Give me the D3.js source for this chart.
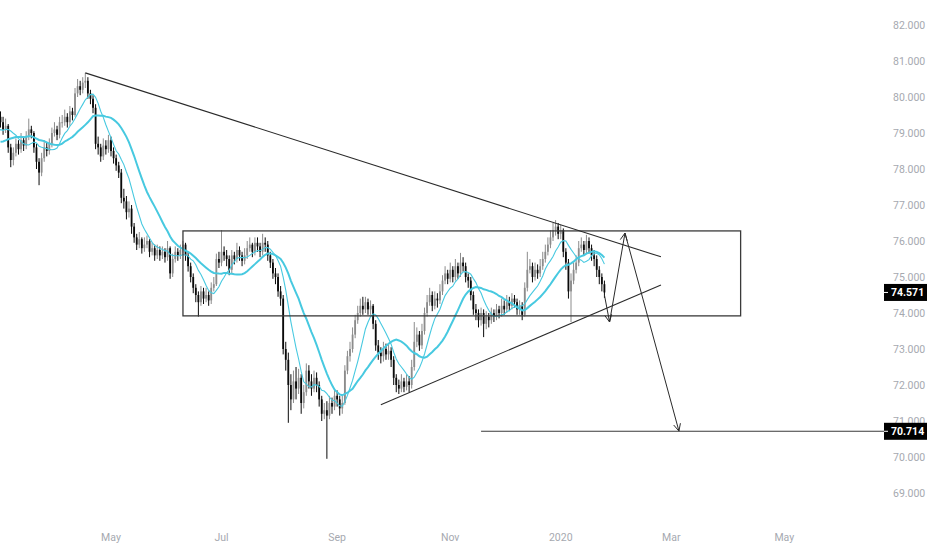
<!DOCTYPE html>
<html>
<head>
<meta charset="utf-8">
<script src="https://cdn.jsdelivr.net/npm/d3@7"></script>
<style>
html, body { margin: 0; padding: 0; background: #fff; }
svg { display: block; font-family: Roboto, "Liberation Sans", sans-serif; }
</style>
</head>
<body>
<div id="chart"></div>
<script>
// daily bars on a weekday calendar, first bar 2019-02-01
const firstDay = new Date(2019, 1, 1)
const lastDay = new Date(2020, 5, 1)

// February 2019 closes, only needed so the moving averages start at the left edge
const warmupCloses = [79.0, 78.6, 77.9, 77.8, 78.0, 78.3, 78.5, 78.7, 78.9, 78.6,
    78.8, 79.0, 79.3, 78.9, 78.7, 78.6, 79.0, 79.2, 79.4, 79.45]

// visible bars, 2019-03-01 .. 2020-01-24
const closes = [
    79.30,79.10,79.20,78.60,78.25,78.45,78.70,78.55,78.80,78.65,
    78.90,79.10,79.00,78.60,78.20,77.90,78.30,78.60,78.50,78.70,
    79.00,79.10,78.95,79.30,79.30,79.45,79.30,79.60,79.50,80.10,
    80.30,80.20,80.40,80.45,80.10,79.95,79.70,78.70,78.60,78.35,
    78.65,78.55,78.80,78.50,78.30,78.10,77.90,77.20,77.10,76.80,
    76.90,76.40,76.10,75.90,76.05,75.80,75.90,76.00,75.70,75.80,
    75.60,75.75,75.60,75.70,75.55,75.80,75.10,75.50,75.70,75.60,
    75.75,75.90,75.60,75.30,75.00,74.70,74.50,74.30,74.60,74.40,
    74.50,74.35,74.70,74.80,75.50,75.40,75.70,75.60,75.50,75.20,
    75.60,75.50,75.75,75.60,75.45,75.60,75.80,75.90,75.70,75.95,
    75.85,75.70,75.95,75.90,75.60,75.40,75.10,75.00,74.60,74.40,
    73.00,72.70,72.00,71.60,72.10,71.90,72.20,71.50,71.80,72.40,
    72.10,71.90,72.20,72.00,71.60,71.20,71.30,71.15,71.50,71.40,
    71.70,71.60,71.35,71.50,72.40,72.80,73.00,73.40,73.80,74.00,
    74.20,74.10,74.30,74.10,74.20,73.70,73.10,72.90,72.80,73.00,
    72.85,72.95,72.70,72.20,72.00,71.90,72.10,71.95,72.10,72.00,
    72.50,73.20,73.40,73.10,73.50,74.00,74.30,74.50,74.20,74.40,
    74.35,74.60,74.90,75.10,74.95,75.20,75.00,75.30,75.10,75.40,
    75.30,75.00,74.90,74.50,74.10,74.00,73.80,74.00,73.70,73.90,
    73.80,74.00,73.90,74.10,74.00,74.20,74.10,74.30,74.20,74.40,
    74.30,74.10,74.20,73.95,74.70,75.20,75.30,75.00,75.20,75.10,
    75.30,75.50,75.70,75.90,76.10,76.30,76.40,76.20,76.30,75.70,
    75.40,74.60,74.90,75.20,75.40,75.80,75.90,75.75,76.00,75.80,
    75.60,75.50,75.20,75.00,74.80,74.571]

const highs = [
    79.60,79.45,79.40,79.25,78.70,78.60,78.85,78.80,79.00,78.90,
    79.05,79.40,79.20,79.05,78.70,78.30,78.45,78.80,78.75,78.85,
    79.15,79.30,79.20,79.45,79.50,79.65,79.55,79.75,79.70,80.25,
    80.50,80.45,80.55,80.67,80.55,80.20,80.05,79.80,78.90,78.70,
    78.85,78.80,78.95,78.90,78.60,78.40,78.20,78.00,77.45,77.25,
    77.10,77.00,76.50,76.20,76.25,76.10,76.10,76.15,76.05,75.95,
    75.90,75.90,75.85,75.85,75.80,76.00,75.85,75.65,75.85,75.80,
    75.90,76.00,75.95,75.70,75.40,75.10,74.80,74.60,74.75,74.70,
    74.70,74.60,74.85,75.00,75.65,75.70,76.30,75.85,75.75,75.60,
    75.75,75.70,75.95,75.85,75.70,75.80,76.00,76.10,75.95,76.10,
    76.10,75.95,76.20,76.10,76.00,75.70,75.50,75.25,75.10,74.75,
    74.50,73.20,72.90,72.30,72.40,72.50,72.45,72.30,72.00,72.60,
    72.55,72.30,72.40,72.35,72.10,71.70,71.50,71.55,71.70,71.65,
    71.90,71.85,71.70,71.75,72.55,72.95,73.20,73.60,73.95,74.20,
    74.40,74.45,74.45,74.40,74.35,74.25,73.80,73.25,73.05,73.20,
    73.15,73.15,73.05,72.80,72.30,72.15,72.30,72.20,72.30,72.25,
    72.70,73.75,73.60,73.50,73.70,74.15,74.50,74.70,74.60,74.60,
    74.55,74.80,75.05,75.30,75.20,75.40,75.30,75.50,75.40,75.67,
    75.55,75.40,75.10,75.00,74.60,74.25,74.10,74.15,74.10,74.05,
    74.00,74.15,74.10,74.25,74.20,74.40,74.35,74.50,74.45,74.55,
    74.50,74.40,74.35,74.30,74.85,75.70,75.50,75.40,75.40,75.35,
    75.50,75.70,75.90,76.10,76.30,76.50,76.58,76.50,76.45,76.35,
    75.80,75.50,75.10,75.40,75.60,76.00,76.10,76.00,76.17,76.10,
    75.90,75.75,75.60,75.30,75.10,74.90]

const lows = [
    79.15,78.95,79.00,78.45,78.05,78.10,78.35,78.40,78.45,78.50,
    78.55,78.80,78.85,78.45,78.00,77.55,77.80,78.20,78.35,78.40,
    78.60,78.90,78.80,78.85,79.15,79.20,79.15,79.20,79.35,79.45,
    80.00,80.05,80.10,80.25,79.95,79.80,79.55,78.55,78.40,78.20,
    78.25,78.40,78.45,78.35,78.15,77.95,77.75,77.05,76.90,76.60,
    76.65,76.20,75.95,75.75,75.80,75.65,75.70,75.80,75.55,75.60,
    75.45,75.50,75.45,75.50,75.40,75.45,74.95,75.00,75.40,75.45,
    75.50,75.65,75.45,75.15,74.85,74.55,74.30,73.90,74.20,74.25,
    74.30,74.20,74.25,74.60,74.75,75.25,75.30,75.45,75.30,75.05,
    75.10,75.35,75.40,75.45,75.30,75.35,75.50,75.70,75.55,75.60,
    75.70,75.55,75.60,75.70,75.45,75.25,74.95,74.80,74.45,74.20,
    72.85,72.40,70.95,71.30,71.50,71.60,71.75,71.20,71.35,71.70,
    71.90,71.70,71.80,71.80,71.40,71.00,71.05,69.95,71.05,71.20,
    71.30,71.40,71.15,71.20,71.45,72.30,72.65,72.90,73.30,73.70,
    73.90,73.95,74.00,73.95,73.95,73.55,72.95,72.70,72.60,72.65,
    72.70,72.70,72.50,72.00,71.80,71.75,71.80,71.80,71.85,71.80,
    71.90,72.40,73.05,72.95,73.00,73.40,73.90,74.20,74.05,74.10,
    74.15,74.25,74.50,74.80,74.80,74.85,74.85,74.90,74.95,75.00,
    75.15,74.85,74.70,74.35,73.95,73.80,73.60,73.65,73.33,73.55,
    73.60,73.70,73.75,73.80,73.85,73.90,73.95,74.00,74.05,74.10,
    74.15,73.95,73.95,73.80,73.90,74.60,75.10,74.85,74.90,74.95,
    75.00,75.20,75.40,75.60,75.80,76.00,76.15,76.05,76.05,75.55,
    75.20,74.40,73.75,74.80,75.10,75.30,75.70,75.60,75.65,75.65,
    75.45,75.30,75.00,74.80,74.60,74.42]

const fastPeriod = 9
const slowPeriod = 21

const lastPrice = 74.571
const targetPrice = 70.714

const priceTicks = [82, 81, 80, 79, 78, 77, 76, 75, 74, 73, 72, 71, 70, 69]
const monthTicks = ["2019-05", "2019-07", "2019-09", "2019-11", "2020-01", "2020-03", "2020-05"]
const monthLabels = ["May", "Jul", "Sep", "Nov", "2020", "Mar", "May"]

// drawings, anchored at [date, price]
const downTrend = [["2019-04-17", 80.67], ["2020-02-25", 75.56]]
const upTrend = [["2019-09-25", 71.45], ["2020-02-25", 74.78]]
const rangeBox = [["2019-06-10", 76.28], ["2020-04-08", 73.92]]
const forecast = [["2020-01-24", 74.50], ["2020-01-28", 73.75], ["2020-02-05", 76.22], ["2020-03-05", 70.72]]
const targetStart = "2019-11-19"

const width = 932, height = 550
const plotRight = 884

const fmtDay = d3.timeFormat("%Y-%m-%d")
const fmtMonth = d3.timeFormat("%Y-%m")
const days = d3.timeDay.range(firstDay, lastDay).filter(d => d.getDay() % 6 !== 0)
const dayIndex = new Map(days.map((d, i) => [fmtDay(d), i]))

const x = d3.scaleLinear().domain([20, 362]).range([0.5, 879.4])
const y = d3.scaleLinear().domain([69, 82]).range([493, 25])
const dx = s => x(dayIndex.get(s))

const svg = d3.select("#chart").append("svg")
    .attr("width", width)
    .attr("height", height)

svg.append("defs").append("clipPath").attr("id", "plot")
    .append("rect").attr("x", 0).attr("y", 0).attr("width", plotRight).attr("height", 520)

const plot = svg.append("g").attr("clip-path", "url(#plot)")

// candles
const off = warmupCloses.length
const bars = closes.map((c, i) => ({
    idx: i + off,
    o: i ? closes[i - 1] : warmupCloses[off - 1],
    c: c, h: highs[i], l: lows[i]
}))
const upCol = "#8c8c8c", downCol = "#0a0a0a"

const candles = plot.append("g")
candles.selectAll("line")
    .data(bars)
    .enter().append("line")
    .attr("x1", d => x(d.idx)).attr("x2", d => x(d.idx))
    .attr("y1", d => y(d.h)).attr("y2", d => y(d.l))
    .attr("stroke", d => d.c >= d.o ? upCol : downCol)
    .attr("stroke-width", 1)
candles.selectAll("rect")
    .data(bars)
    .enter().append("rect")
    .attr("x", d => x(d.idx) - 0.9)
    .attr("width", 1.8)
    .attr("y", d => y(Math.max(d.o, d.c)))
    .attr("height", d => Math.max(1, Math.abs(y(d.o) - y(d.c))))
    .attr("fill", d => d.c >= d.o ? upCol : downCol)

// moving averages
const allCloses = warmupCloses.concat(closes)
function sma(vals, n) {
    return vals.map((v, i) => i < n - 1 ? null : d3.mean(vals.slice(i - n + 1, i + 1)))
}
const maLine = d3.line()
    .defined(d => d[1] != null)
    .x(d => x(d[0])).y(d => y(d[1]))
const fast = sma(allCloses, fastPeriod).map((v, i) => [i, v]).filter(d => d[0] >= off - 1)
const slow = sma(allCloses, slowPeriod).map((v, i) => [i, v]).filter(d => d[0] >= off - 1)
plot.append("path").attr("d", maLine(slow))
    .attr("fill", "none").attr("stroke", "#47c9e0").attr("stroke-width", 2)
plot.append("path").attr("d", maLine(fast))
    .attr("fill", "none").attr("stroke", "#47c9e0").attr("stroke-width", 1.1)

// drawings
const ink = "#2a2a2a"
const draw = plot.append("g").attr("fill", "none").attr("stroke", ink)

draw.append("rect")
    .attr("x", dx(rangeBox[0][0])).attr("y", y(rangeBox[0][1]))
    .attr("width", dx(rangeBox[1][0]) - dx(rangeBox[0][0]))
    .attr("height", y(rangeBox[1][1]) - y(rangeBox[0][1]))
    .attr("stroke", "#3a3a3a").attr("stroke-width", 1.3)

const seg = d3.line().x(d => dx(d[0])).y(d => y(d[1]))
draw.append("path").attr("d", seg(downTrend)).attr("stroke-width", 1.1)
draw.append("path").attr("d", seg(upTrend)).attr("stroke-width", 1.1)
draw.append("path").attr("d", seg(forecast)).attr("stroke-width", 1)

// open arrow heads at each turn of the forecast path
const pts = forecast.map(d => [dx(d[0]), y(d[1])])
for (let k = 1; k < pts.length; k++) {
    const [x0, y0] = pts[k - 1], [x1, y1] = pts[k]
    const a = Math.atan2(y0 - y1, x0 - x1)
    const head = [a - 0.45, a + 0.45].map(t => [x1 + 8 * Math.cos(t), y1 + 8 * Math.sin(t)])
    draw.append("path")
        .attr("d", d3.line()([head[0], [x1, y1], head[1]]))
        .attr("stroke-width", 1)
}

svg.append("line")
    .attr("x1", dx(targetStart)).attr("x2", plotRight)
    .attr("y1", y(targetPrice)).attr("y2", y(targetPrice))
    .attr("stroke", "#3a3a3a").attr("stroke-width", 1.1)

// price scale
const axisCol = "#a6a9b0"
svg.append("g").selectAll("text")
    .data(priceTicks)
    .enter().append("text")
    .attr("x", 893).attr("y", d => y(d) + 4)
    .attr("font-size", "10.5px").attr("fill", axisCol)
    .text(d => d3.format(".3f")(d))

const tags = svg.append("g")
;[lastPrice, targetPrice].forEach(p => {
    tags.append("rect")
        .attr("x", 884).attr("y", y(p) - 8.5)
        .attr("width", 43).attr("height", 17)
        .attr("fill", "#000")
    tags.append("line")
        .attr("x1", 884).attr("x2", 888)
        .attr("y1", y(p)).attr("y2", y(p))
        .attr("stroke", "#fff")
    tags.append("text")
        .attr("x", 891).attr("y", y(p) + 4)
        .attr("font-size", "10.5px").attr("font-weight", "bold")
        .attr("fill", "#fff")
        .text(d3.format(".3f")(p))
})

// time scale
svg.append("g").selectAll("text")
    .data(monthTicks)
    .enter().append("text")
    .attr("x", m => x(days.findIndex(d => fmtMonth(d) === m)))
    .attr("y", 541)
    .attr("text-anchor", "middle")
    .attr("font-size", "10.5px").attr("fill", axisCol)
    .text((m, i) => monthLabels[i])
</script>
</body>
</html>
